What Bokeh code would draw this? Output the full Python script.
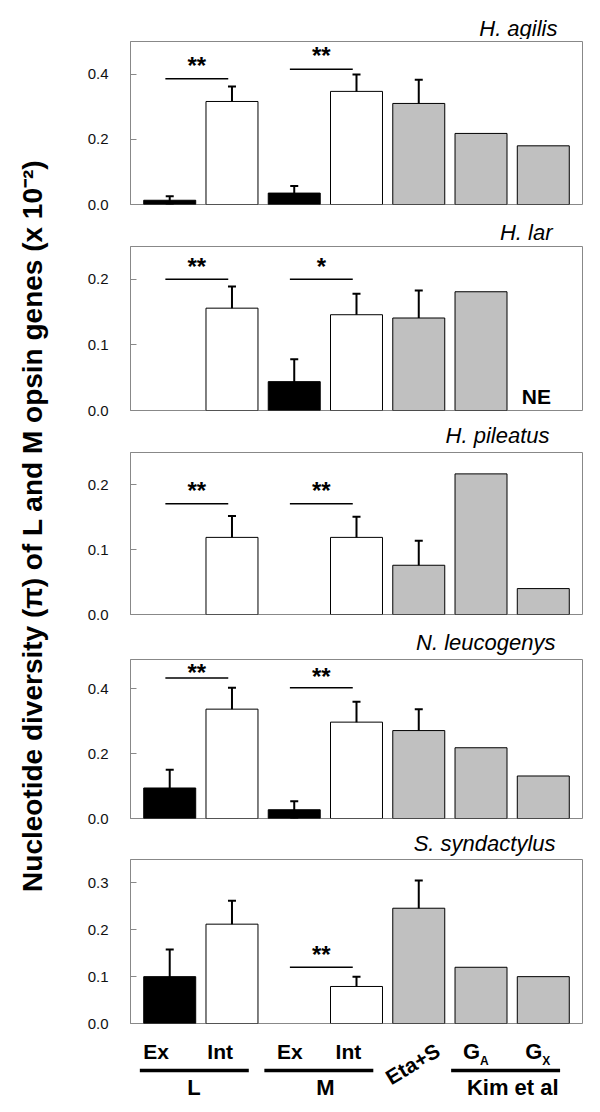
import numpy as np
from bokeh.plotting import figure
from bokeh.layouts import row, column
from bokeh.models import (Range1d, ColumnDataSource, Whisker, TeeHead,
                          FixedTicker, NumeralTickFormatter)
from bokeh.core.properties import value
from bokeh.embed import file_html
from bokeh.resources import INLINE

# ---------------- data ----------------
categories = ["Ex", "Int", "Ex", "Int", "Eta+S", "G", "G"]
subscripts = ["", "", "", "", "", "A", "X"]
bar_kind = ["exon", "intron", "exon", "intron", "other", "other", "other"]
groups = ["L", "M", "Kim et al"]
group_first = [0, 2, 5]
group_last = [1, 3, 6]

species = ["H. agilis", "H. lar", "H. pileatus", "N. leucogenys", "S. syndactylus"]

agilis_pi = [0.013, 0.316, 0.035, 0.347, 0.310, 0.218, 0.180]
agilis_err = [0.012, 0.046, 0.022, 0.052, 0.073, None, None]
lar_pi = [0.0, 0.156, 0.044, 0.146, 0.141, 0.181, None]
lar_err = [None, 0.033, 0.034, 0.032, 0.042, None, None]
pileatus_pi = [0.0, 0.119, 0.0, 0.119, 0.076, 0.217, 0.040]
pileatus_err = [None, 0.033, None, 0.032, 0.038, None, None]
leucogenys_pi = [0.094, 0.337, 0.027, 0.297, 0.271, 0.218, 0.131]
leucogenys_err = [0.056, 0.066, 0.026, 0.063, 0.066, None, None]
syndactylus_pi = [0.100, 0.212, 0.0, 0.079, 0.246, 0.120, 0.100]
syndactylus_err = [0.058, 0.050, None, 0.021, 0.059, None, None]

panel_pi = [agilis_pi, lar_pi, pileatus_pi, leucogenys_pi, syndactylus_pi]
panel_err = [agilis_err, lar_err, pileatus_err, leucogenys_err, syndactylus_err]

y_max = [0.5, 0.25, 0.25, 0.49, 0.35]
y_ticks = [[0.0, 0.2, 0.4], [0.0, 0.1, 0.2], [0.0, 0.1, 0.2], [0.0, 0.2, 0.4], [0.0, 0.1, 0.2, 0.3]]

# significance brackets
sig_panel = [0, 0, 1, 1, 2, 2, 3, 3, 4]
sig_from = [0, 2, 0, 2, 0, 2, 0, 2, 2]
sig_to = [1, 3, 1, 3, 1, 3, 1, 3, 3]
sig_line_y = [0.386, 0.415, 0.200, 0.200, 0.171, 0.171, 0.433, 0.403, 0.120]
sig_mark_y = [0.438, 0.469, 0.226, 0.226, 0.197, 0.197, 0.4615, 0.451, 0.156]
sig_mark = ["**", "**", "**", "*", "**", "**", "**", "**", "**"]

not_estimated_panel = 1
not_estimated_cat = 6

y_label = "Nucleotide diversity (\u03c0)  of L and M opsin genes (x 10\u207b\u00b2)"

# ---------------- style / layout ----------------
FONT = "Liberation Sans"
fill_map = {"exon": "black", "intron": "white", "other": "#c0c0c0"}
frame_grey = "#888888"
X0, X1 = -0.63, 6.63
BAR_W = 0.835
W = 522

label_h = [39, 31, 31, 34, 30]          # strip above each panel
label_y = [11.5, 12, 15.5, 15.2, 14.5]   # text centre from strip bottom
label_right = [-25, -30, -33, -27, -27]
frame_h = [163, 164, 162, 159, 164]
PAD_TOP, PAD_BOTTOM = 2, 9
BH = 68


def strip(h):
    f = figure(width=W, height=h, x_range=Range1d(X0, X1), y_range=Range1d(0, h),
               output_backend="svg", toolbar_location=None,
               min_border_left=60, min_border_right=10, min_border_top=0, min_border_bottom=0)
    f.axis.visible = False
    f.grid.visible = False
    f.outline_line_color = None
    return f


items = []
for i in range(5):
    lab = strip(label_h[i])
    lab.text(x=[X1], y=[label_y[i]], text=[species[i]], x_offset=label_right[i],
             text_align="right", text_baseline="middle", text_font=value(FONT),
             text_font_style="italic", text_font_size="22px", text_color="black")
    items.append(lab)

    p = figure(width=W, height=frame_h[i] + PAD_TOP + PAD_BOTTOM,
               x_range=Range1d(X0, X1), y_range=Range1d(0, y_max[i]),
               output_backend="svg", toolbar_location=None,
               min_border_left=60, min_border_right=10,
               min_border_top=PAD_TOP, min_border_bottom=PAD_BOTTOM)
    p.xaxis.visible = False
    p.grid.visible = False
    p.outline_line_color = frame_grey
    p.outline_line_width = 1
    ax = p.yaxis[0]
    ax.ticker = FixedTicker(ticks=y_ticks[i])
    ax.formatter = NumeralTickFormatter(format="0.0")
    ax.major_label_text_font = FONT
    ax.major_label_text_font_size = "15px"
    ax.major_label_text_color = "#111111"
    ax.major_tick_in = 6
    ax.major_tick_out = 0
    ax.minor_tick_in = 0
    ax.minor_tick_out = 0
    ax.axis_line_color = frame_grey
    ax.major_tick_line_color = frame_grey
    ax.major_label_standoff = 22

    vals = panel_pi[i]
    errs = panel_err[i]
    bx, bt, bc = [], [], []
    for k, v in enumerate(vals):
        if v is not None and v > 0:
            bx.append(k)
            bt.append(v)
            bc.append(fill_map[bar_kind[k]])
    p.vbar(x=bx, top=bt, width=BAR_W, fill_color=bc, line_color="black", line_width=1)

    wx, wu, wl = [], [], []
    for k, (v, e) in enumerate(zip(vals, errs)):
        if v is not None and e is not None:
            wx.append(k)
            wu.append(v + e)
            wl.append(v - e)
    wsrc = ColumnDataSource(dict(x=wx, upper=wu, lower=wl))
    p.add_layout(Whisker(base="x", upper="upper", lower="lower", source=wsrc,
                         line_color="black", line_width=2,
                         upper_head=TeeHead(size=8, line_width=2, line_color="black"),
                         lower_head=TeeHead(size=8, line_width=2, line_color="black")))

    sx0, sx1, sy, mx, my, mt = [], [], [], [], [], []
    for j in range(len(sig_panel)):
        if sig_panel[j] == i:
            a = sig_from[j] - 0.07
            b = sig_to[j] - 0.06
            sx0.append(a); sx1.append(b); sy.append(sig_line_y[j])
            mx.append((a + b) / 2); my.append(sig_mark_y[j]); mt.append(sig_mark[j])
    p.segment(x0=sx0, y0=sy, x1=sx1, y1=sy, line_color="black", line_width=1.5)
    p.text(x=mx, y=my, text=mt, text_align="center", text_baseline="middle",
           y_offset=4, text_font=value(FONT), text_font_style="bold",
           text_font_size="24px", text_color="black")

    if i == not_estimated_panel:
        p.text(x=[not_estimated_cat - 0.11], y=[0.0216], text=["NE"], text_align="center",
               text_baseline="middle", text_font=value(FONT), text_font_style="bold",
               text_font_size="21px", text_color="black")
    items.append(p)

# ---------------- bottom category labels ----------------
pb = strip(BH)
label_shift = [-0.22, -0.19, -0.07, -0.13]
plain_idx = [0, 1, 2, 3]
pb.text(x=[k + label_shift[n] for n, k in enumerate(plain_idx)], y=[49.2] * 4,
        text=[categories[k] for k in plain_idx], text_align="center",
        text_baseline="middle", text_font=value(FONT), text_font_style="bold",
        text_font_size="21px", text_color="black")
# rotated Eta+S
pb.text(x=[4 - 0.1], y=[36.7], text=[categories[4]], angle=np.pi / 5.8,
        text_align="center", text_baseline="middle", text_font=value(FONT),
        text_font_style="bold", text_font_size="21px", text_color="black")
# G with subscripts
g_idx = [5, 6]
pb.text(x=g_idx, y=[49.2] * 2, text=[categories[k] for k in g_idx], x_offset=-18,
        text_align="left", text_baseline="middle", text_font=value(FONT),
        text_font_style="bold", text_font_size="22px", text_color="black")
pb.text(x=g_idx, y=[39.7] * 2, text=[subscripts[k] for k in g_idx], x_offset=-1,
        text_align="left", text_baseline="middle", text_font=value(FONT),
        text_font_style="bold", text_font_size="12px", text_color="black")
# group underlines and names
pb.segment(x0=[f - 0.48 for f in group_first], y0=[30] * 3,
           x1=[l + 0.27 for l in group_last], y1=[30] * 3,
           line_color="black", line_width=3.5)
group_shift = [-0.11, 0.0, 0.01]
pb.text(x=[(f + l) / 2 + s for f, l, s in zip(group_first, group_last, group_shift)],
        y=[12.8] * 3, text=groups, text_align="center", text_baseline="middle",
        text_font=value(FONT), text_font_style="bold", text_font_size="22px",
        text_color="black")
items.append(pb)

# ---------------- y-axis title ----------------
total_h = sum(label_h) + sum(frame_h) + 5 * (PAD_TOP + PAD_BOTTOM) + BH
py = figure(width=70, height=total_h, x_range=Range1d(0, 70), y_range=Range1d(0, total_h),
            output_backend="svg", toolbar_location=None,
            min_border_left=0, min_border_right=0, min_border_top=0, min_border_bottom=0)
py.axis.visible = False
py.grid.visible = False
py.outline_line_color = None
py.text(x=[32], y=[total_h - 521.5], text=[y_label], angle=np.pi / 2,
        text_align="center", text_baseline="middle", text_font=value(FONT),
        text_font_style="bold", text_font_size="28px", text_color="black")

layout = row(py, column(*items, spacing=0), spacing=0)
open("out.html", "w").write(file_html(layout, INLINE))
